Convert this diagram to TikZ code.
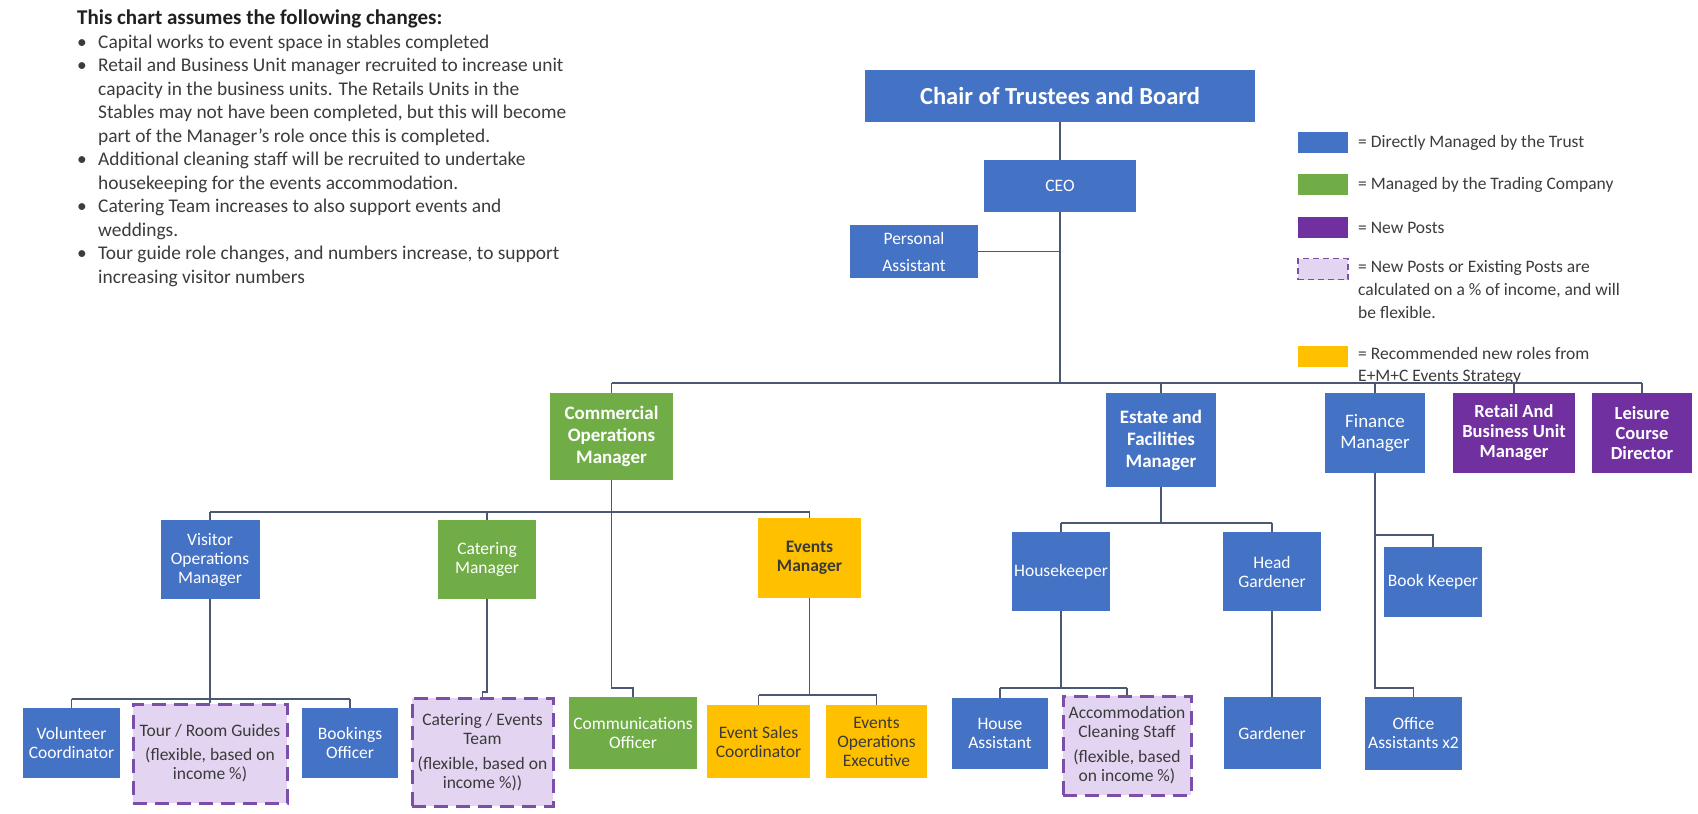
\documentclass[tikz,border=0pt]{standalone}
\usepackage{fontspec}
\setmainfont{Carlito}
\definecolor{trustblue}{HTML}{4472C4}
\definecolor{tradegreen}{HTML}{70AD47}
\definecolor{newpurple}{HTML}{7030A0}
\definecolor{eventgold}{HTML}{FFC000}
\definecolor{flexfill}{HTML}{E3D5F1}
\definecolor{flexedge}{HTML}{7B4FA8}
\definecolor{linkgrey}{HTML}{4A5873}
\definecolor{inkgrey}{HTML}{3A3A3A}
\definecolor{notegrey}{HTML}{3C3C3C}

\tikzset{
  post/.style={rectangle, inner sep=0pt, align=center, text=white,
    font=\fontsize{17.5}{19}\selectfont},
  size/.style 2 args={minimum width=#1pt, minimum height=#2pt},
  trust/.style={post, fill=trustblue},
  trade/.style={post, fill=tradegreen},
  newpost/.style={post, fill=newpurple, font=\bfseries\fontsize{18.5}{20}\selectfont},
  eventpost/.style={post, fill=eventgold, text=inkgrey},
  flexpost/.style={post, fill=flexfill, draw=flexedge, line width=3pt,
    dash pattern=on 14pt off 8pt, text=inkgrey},
  headfont/.style={font=\bfseries\fontsize{19}{22}\selectfont},
  link/.style={draw=linkgrey, line width=1.8pt},
  swatch/.style={rectangle, inner sep=0pt, minimum width=50pt, minimum height=21pt},
  keytext/.style={anchor=west, inner sep=0pt, align=left, text=notegrey,
    font=\fontsize{17.5}{23}\selectfont},
}
\newcommand{\bul}{\makebox[21pt][l]{\textbullet}}
\newcommand{\ind}{\hspace*{21pt}}

\begin{document}
\begin{tikzpicture}[x=1pt, y=-1pt]
\fill[white] (0,0) rectangle (1698,814);
\useasboundingbox (0,0) rectangle (1698,814);

% assumptions behind the chart
\node[anchor=north west, inner sep=0pt, align=left, text=notegrey,
      font=\fontsize{19.4}{23.5}\selectfont] (notes) at (77,10)
{{\bfseries\fontsize{21}{23.5}\selectfont\color{black!88}This chart assumes the following changes:}\\
\bul Capital works to event space in stables completed\\
\bul Retail and Business Unit manager recruited to increase unit\\
\ind capacity in the business units. The Retails Units in the\\
\ind Stables may not have been completed, but this will become\\
\ind part of the Manager's role once this is completed.\\
\bul Additional cleaning staff will be recruited to undertake\\
\ind housekeeping for the events accommodation.\\
\bul Catering Team increases to also support events and\\
\ind weddings.\\
\bul Tour guide role changes, and numbers increase, to support\\
\ind increasing visitor numbers};

% board and executive
\node[trust, size={390}{52}, font=\bfseries\fontsize{24.5}{26}\selectfont] (chair) at (1060,96) {Chair of Trustees and Board};
\node[trust, size={152}{52}] (ceo) at (1060,186) {CEO};
\node[trust, size={128}{53}, font=\fontsize{17.5}{27}\selectfont] (pa) at (914,251.5) {Personal\\Assistant};

% heads of department
\node[trade, size={123}{87}, headfont] (comops) at (611.5,436.5) {Commercial\\Operations\\Manager};
\node[trust, size={110}{94}, headfont] (estate) at (1161,440) {Estate and\\Facilities\\Manager};
\node[trust, size={100}{80}, font=\fontsize{19}{21}\selectfont] (finance) at (1375,433) {Finance\\Manager};
\node[newpost, size={122}{80}] (retail) at (1514,433) {Retail And\\Business Unit\\Manager};
\node[newpost, size={100}{80}] (leisure) at (1642,433) {Leisure\\Course\\Director};

% managers
\node[trust, size={99}{79}] (visitor) at (210,559.5) {Visitor\\Operations\\Manager};
\node[trade, size={98}{79}] (catmgr) at (487,559.5) {Catering\\Manager};
\node[eventpost, size={103}{80}, font=\bfseries\fontsize{17.5}{19}\selectfont] (events) at (809.5,558) {Events\\Manager};
\node[trust, size={98}{79}] (housekeeper) at (1061,571.5) {Housekeeper};
\node[trust, size={98}{79}] (headgard) at (1272,571.5) {Head\\Gardener};
\node[trust, size={98}{70}] (bookkeeper) at (1433,582) {Book Keeper};

% staff
\node[trust, size={97}{70}] (volunteer) at (71.5,743) {Volunteer\\Coordinator};
\node[flexpost, size={154}{99}] (tour) at (210,753.5) {Tour / Room Guides\\[5pt](flexible, based on\\income \%)};
\node[trust, size={96}{70}] (bookings) at (350,743) {Bookings\\Officer};
\node[flexpost, size={141}{108}] (catteam) at (482.5,752) {Catering / Events\\Team\\[6pt](flexible, based on\\income \%))};
\node[trade, size={128}{72}] (comms) at (633,733) {Communications\\Officer};
\node[eventpost, size={103}{73}] (sales) at (758.5,741.5) {Event Sales\\Coordinator};
\node[eventpost, size={101}{73}] (opsexec) at (876.5,741.5) {Events\\Operations\\Executive};
\node[trust, size={96}{71}] (houseasst) at (1000,733.5) {House\\Assistant};
\node[flexpost, size={128}{99}] (accom) at (1127,745.5) {Accommodation\\Cleaning Staff\\[6pt](flexible, based\\on income \%)};
\node[trust, size={97}{72}] (gardener) at (1272,733) {Gardener};
\node[trust, size={97}{73}] (officeasst) at (1413.5,733.5) {Office\\Assistants x2};

% key
\node[swatch, fill=trustblue] (keytrust) at (1323,142.5) {};
\node[swatch, fill=tradegreen] (keytrade) at (1323,184) {};
\node[swatch, fill=newpurple] (keynew) at (1323,227.5) {};
\node[swatch, fill=flexfill, draw=flexedge, line width=1.5pt, dash pattern=on 6pt off 4pt] (keyflex) at (1323,269) {};
\node[swatch, fill=eventgold] (keyevent) at (1323,356) {};
\node[keytext] (keytrusttext) at (1358,143) {= Directly Managed by the Trust};
\node[keytext] (keytradetext) at (1358,185) {= Managed by the Trading Company};
\node[keytext] (keynewtext) at (1358,228) {= New Posts};
\node[keytext] (keyflextext) at (1358,290) {= New Posts or Existing Posts are\\calculated on a \% of income, and will\\be flexible.};
\node[keytext, font=\fontsize{17.5}{22}\selectfont] (keyeventtext) at (1358,366) {= Recommended new roles from\\E+M+C Events Strategy};

% reporting lines
\coordinate (topbus) at (0,383);
\coordinate (combus) at (0,512);
\coordinate (visbus) at (0,699);
\coordinate (evbus) at (0,695);
\coordinate (estbus) at (0,523);
\coordinate (hkbus) at (0,688);
\coordinate (bkbranch) at (0,535);

\draw[link] (chair) -- (ceo);
\draw[link] (ceo.south) -- (ceo.south |- topbus);
\draw[link] (pa.east) -- (pa.east -| ceo.south);
\draw[link] (comops.north |- topbus) -- (leisure.north |- topbus);
\foreach \n in {comops, estate, finance, retail, leisure}
  \draw[link] (\n.north |- topbus) -- (\n.north);

\draw[link] (comops.south) -- ++(0,208) -| (comms.north);
\draw[link] (visitor.north |- combus) -- (events.north |- combus);
\foreach \n in {visitor, catmgr, events}
  \draw[link] (\n.north |- combus) -- (\n.north);

\draw[link] (visitor.south) -- (visitor.south |- visbus);
\draw[link] (volunteer.north |- visbus) -- (bookings.north |- visbus);
\foreach \n in {volunteer, tour, bookings}
  \draw[link] (\n.north |- visbus) -- (\n.north);

\draw[link] (catmgr.south) -- ++(0,93) -| (catteam.north);

\draw[link] (events.south) -- (events.south |- evbus);
\draw[link] (sales.north |- evbus) -- (opsexec.north |- evbus);
\foreach \n in {sales, opsexec}
  \draw[link] (\n.north |- evbus) -- (\n.north);

\draw[link] (estate.south) -- (estate.south |- estbus);
\draw[link] (housekeeper.north |- estbus) -- (headgard.north |- estbus);
\foreach \n in {housekeeper, headgard}
  \draw[link] (\n.north |- estbus) -- (\n.north);

\draw[link] (housekeeper.south) -- (housekeeper.south |- hkbus);
\draw[link] (houseasst.north |- hkbus) -- (accom.north |- hkbus);
\foreach \n in {houseasst, accom}
  \draw[link] (\n.north |- hkbus) -- (\n.north);

\draw[link] (headgard.south) -- (gardener.north);

\draw[link] (finance.south) -- ++(0,215) -| (officeasst.north);
\draw[link] (finance.south |- bkbranch) -| (bookkeeper.north);
\end{tikzpicture}
\end{document}
